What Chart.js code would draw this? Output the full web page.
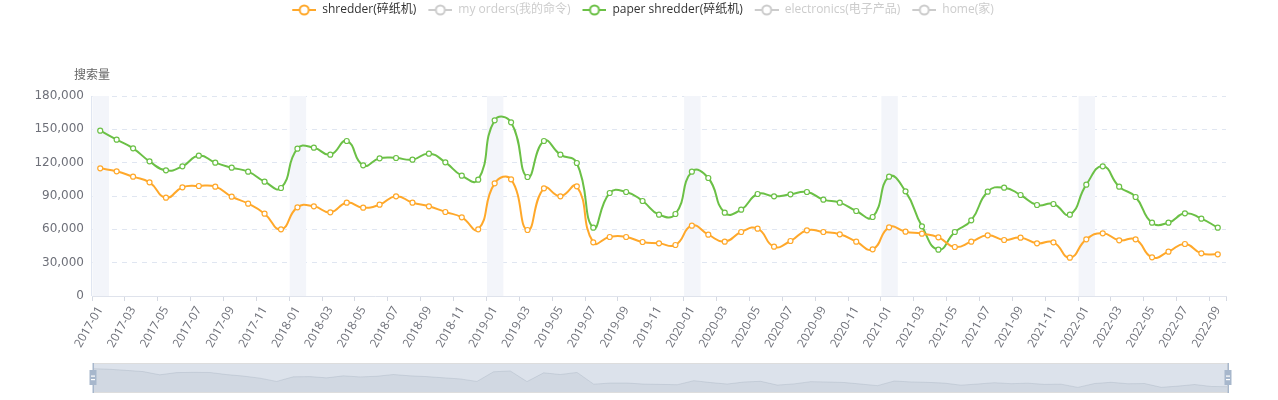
<!DOCTYPE html>
<html>
<head>
<meta charset="utf-8">
<script src="https://cdn.jsdelivr.net/npm/chart.js@4.4.0/dist/chart.umd.min.js"></script>
<style>
  html, body { margin: 0; padding: 0; background: #fff; }
  #wrap { position: relative; width: 1278px; height: 400px; }
  #main { position: absolute; left: 0; top: 0; }
  #zoom { position: absolute; left: 0; top: 355px; }
</style>
</head>
<body>
<div id="wrap">
  <canvas id="main" width="1278" height="400"></canvas>
  <canvas id="zoom" width="1278" height="45"></canvas>
</div>
<script>
// monthly search volume, 2017-01 .. 2022-09

const months = [
  '2017-01','2017-02','2017-03','2017-04','2017-05','2017-06','2017-07','2017-08','2017-09','2017-10','2017-11','2017-12',
  '2018-01','2018-02','2018-03','2018-04','2018-05','2018-06','2018-07','2018-08','2018-09','2018-10','2018-11','2018-12',
  '2019-01','2019-02','2019-03','2019-04','2019-05','2019-06','2019-07','2019-08','2019-09','2019-10','2019-11','2019-12',
  '2020-01','2020-02','2020-03','2020-04','2020-05','2020-06','2020-07','2020-08','2020-09','2020-10','2020-11','2020-12',
  '2021-01','2021-02','2021-03','2021-04','2021-05','2021-06','2021-07','2021-08','2021-09','2021-10','2021-11','2021-12',
  '2022-01','2022-02','2022-03','2022-04','2022-05','2022-06','2022-07','2022-08','2022-09'
];

const shredder = [
  114900, 112200, 107400, 102300, 88500, 97800, 99000, 98400, 89400, 83100, 74100, 60000,
  79800, 80700, 75300, 84000, 79500, 82200, 89700, 84000, 80700, 75600, 70800, 60000,
  101400, 105000, 59400, 96900, 89700, 98700, 48300, 53100, 53100, 48600, 47400, 45900,
  63300, 55200, 48900, 57600, 60600, 44400, 49500, 59100, 57600, 55500, 48900, 42000,
  61800, 57900, 56100, 52800, 44100, 48900, 54600, 50400, 52500, 47400, 48300, 34500,
  51000, 56400, 50100, 51000, 34800, 39900, 46800, 38400, 37500
];

const paperShredder = [
  148800, 140700, 132900, 121200, 113100, 116700, 126300, 120000, 115500, 111900, 102900, 97200,
  132600, 133500, 127200, 139500, 117600, 123900, 124200, 122700, 128100, 120300, 108300, 104700,
  158100, 156300, 107100, 139500, 127200, 119700, 61500, 92700, 93600, 85500, 73200, 73800,
  111900, 106200, 75000, 77700, 91800, 89700, 91500, 93600, 86700, 84000, 76500, 71100,
  107400, 94200, 62700, 41700, 57600, 68100, 93900, 97500, 90900, 81900, 82800, 73200,
  100200, 116700, 98400, 89100, 66000, 66000, 74400, 69600, 61500
];

// series in legend order; the greyed ones are switched off in the legend
const seriesNames = ['shredder(碎纸机)', 'my orders(我的命令)', 'paper shredder(碎纸机)', 'electronics(电子产品)', 'home(家)'];
const seriesData = [shredder, [], paperShredder, [], []];
const seriesColors = ['#ffa82a', '#cccccc', '#6bc046', '#cccccc', '#cccccc'];
const seriesOn = [true, false, true, false, false];

const highlightMonths = ['2017-01', '2018-01', '2019-01', '2020-01', '2021-01', '2022-01'];
const yTicks = [0, 30000, 60000, 90000, 120000, 150000, 180000];
const yTitle = '搜索量';

Chart.defaults.font.family = "'Open Sans', 'Noto Sans CJK SC', sans-serif";
Chart.defaults.font.size = 12;
Chart.defaults.color = '#6e7079';

function legendIcon(color) {
  const c = document.createElement('canvas');
  c.width = 32; c.height = 14;
  const g = c.getContext('2d');
  g.strokeStyle = color;
  g.lineWidth = 2;
  g.beginPath(); g.moveTo(8, 7); g.lineTo(32, 7); g.stroke();
  g.beginPath(); g.arc(20, 7, 4.5, 0, Math.PI * 2);
  g.fillStyle = '#fff'; g.fill(); g.stroke();
  return c;
}
const icons = seriesColors.map(legendIcon);

const bands = {
  id: 'bands',
  beforeDatasetsDraw(chart) {
    const { ctx, chartArea: a, scales: { x } } = chart;
    const w = x.getPixelForValue(1) - x.getPixelForValue(0);
    ctx.save();
    ctx.fillStyle = '#f3f5fa';
    highlightMonths.forEach(m => {
      const cx = x.getPixelForValue(months.indexOf(m));
      ctx.fillRect(cx - w / 2 + 0.5, a.top, w, a.bottom - a.top);
    });
    ctx.strokeStyle = '#e0e6f1';
    ctx.lineWidth = 1;
    ctx.beginPath();
    ctx.moveTo(Math.round(a.left) - 0.5, a.top);
    ctx.lineTo(Math.round(a.left) - 0.5, a.bottom);
    ctx.stroke();
    ctx.restore();
  },
  afterDraw(chart) {
    const { ctx, chartArea: a } = chart;
    ctx.save();
    ctx.fillStyle = '#666';
    ctx.font = "12px 'Open Sans', 'Noto Sans CJK SC', sans-serif";
    ctx.textAlign = 'center';
    ctx.textBaseline = 'middle';
    ctx.fillText(yTitle, a.left, a.top - 20);
    ctx.restore();
  }
};

new Chart(document.getElementById('main'), {
  type: 'line',
  data: {
    labels: months,
    datasets: seriesNames.map((name, i) => ({
      label: name,
      data: seriesData[i],
      borderColor: seriesColors[i],
      backgroundColor: seriesColors[i],
      borderWidth: 2,
      tension: 0.5,
      pointRadius: 2.5,
      pointBorderWidth: 1.2,
      pointBackgroundColor: '#fff',
      pointBorderColor: seriesColors[i],
      fill: false
    }))
  },
  options: {
    responsive: false,
    animation: false,
    layout: { padding: 0 },
    scales: {
      x: {
        offset: true,
        grid: {
          offset: true,
          drawOnChartArea: false,
          tickLength: 5,
          tickColor: c => (c.index % 2 ? 'transparent' : '#d5d9e2')
        },
        border: { color: '#dfe3ec' },
        ticks: {
          autoSkip: false,
          minRotation: 60,
          maxRotation: 60,
          padding: 3,
          color: '#6e7079',
          callback: function (v, i) { return i % 2 ? '' : this.getLabelForValue(v); }
        },
        afterFit: s => { s.height = 104; }
      },
      y: {
        min: 0,
        max: 180000,
        afterBuildTicks: s => { s.ticks = yTicks.map(v => ({ value: v })); },
        grid: {
          color: c => (c.tick && c.tick.value === 0 ? 'transparent' : '#e0e6f1'),
          drawTicks: false
        },
        border: { display: false, dash: [5, 5] },
        ticks: {
          padding: 8,
          color: '#6e7079',
          font: { family: "'DejaVu Sans', sans-serif", size: 12 },
          callback: v => v.toLocaleString('en-US')
        },
        afterFit: s => { s.width = 92; }
      },
      // empty right-hand margin, keeps the legend centred on the full width
      yRight: {
        position: 'right',
        grid: { display: false },
        border: { display: false },
        ticks: { display: false },
        afterFit: s => { s.width = 52; }
      }
    },
    plugins: {
      legend: {
        position: 'top',
        labels: {
          usePointStyle: true,
          pointStyleWidth: 32,
          padding: 4,
          font: { size: 12 },
          generateLabels: () => seriesNames.map((name, i) => ({
            text: name,
            fontColor: seriesOn[i] ? '#333' : '#ccc',
            pointStyle: icons[i],
            hidden: false,
            datasetIndex: i,
            lineWidth: 1,
            strokeStyle: seriesColors[i],
            fillStyle: '#fff'
          }))
        }
      },
      subtitle: {
        display: true,
        text: '',
        weight: 500,
        padding: { top: 0, bottom: 60 },
        font: { size: 10, lineHeight: 1 }
      },
      tooltip: { enabled: false }
    }
  },
  plugins: [bands]
});

// data zoom slider under the chart, with the shadow of the first series
const shadowSpan = Math.max(...shredder) - Math.min(...shredder);

const slider = {
  id: 'slider',
  afterDatasetsDraw(chart) {
    const { ctx, chartArea: a } = chart;
    ctx.save();
    ctx.fillStyle = 'rgba(167,183,204,0.4)';
    ctx.fillRect(a.left, a.top, a.right - a.left, a.bottom - a.top);
    ctx.strokeStyle = '#ddd';
    ctx.lineWidth = 1;
    ctx.strokeRect(a.left + 0.5, a.top + 0.5, a.right - a.left - 1, a.bottom - a.top - 1);
    [a.left, a.right].forEach(hx => {
      ctx.fillStyle = '#a7b7cc';
      ctx.fillRect(hx - 0.5, a.top, 1.5, a.bottom - a.top);
      ctx.fillRect(hx - 3.5, a.top + 7, 7, 15);
      ctx.fillStyle = '#fff';
      ctx.fillRect(hx - 2, a.top + 12.5, 4, 1.2);
      ctx.fillRect(hx - 2, a.top + 16, 4, 1.2);
    });
    ctx.restore();
  }
};

new Chart(document.getElementById('zoom'), {
  type: 'line',
  data: {
    labels: months,
    datasets: [{
      data: shredder,
      fill: 'start',
      backgroundColor: 'rgba(47,69,84,0.09)',
      borderColor: 'rgba(47,69,84,0.3)',
      borderWidth: 0.5,
      pointRadius: 0,
      tension: 0
    }]
  },
  options: {
    responsive: false,
    animation: false,
    events: [],
    layout: { padding: { left: 93, right: 50, top: 8, bottom: 7 } },
    scales: {
      x: { display: false },
      y: {
        display: false,
        min: Math.min(...shredder) - shadowSpan * 0.3,
        max: Math.max(...shredder) + shadowSpan * 0.3
      }
    },
    plugins: { legend: { display: false }, tooltip: { enabled: false } }
  },
  plugins: [slider]
});
</script>
</body>
</html>
